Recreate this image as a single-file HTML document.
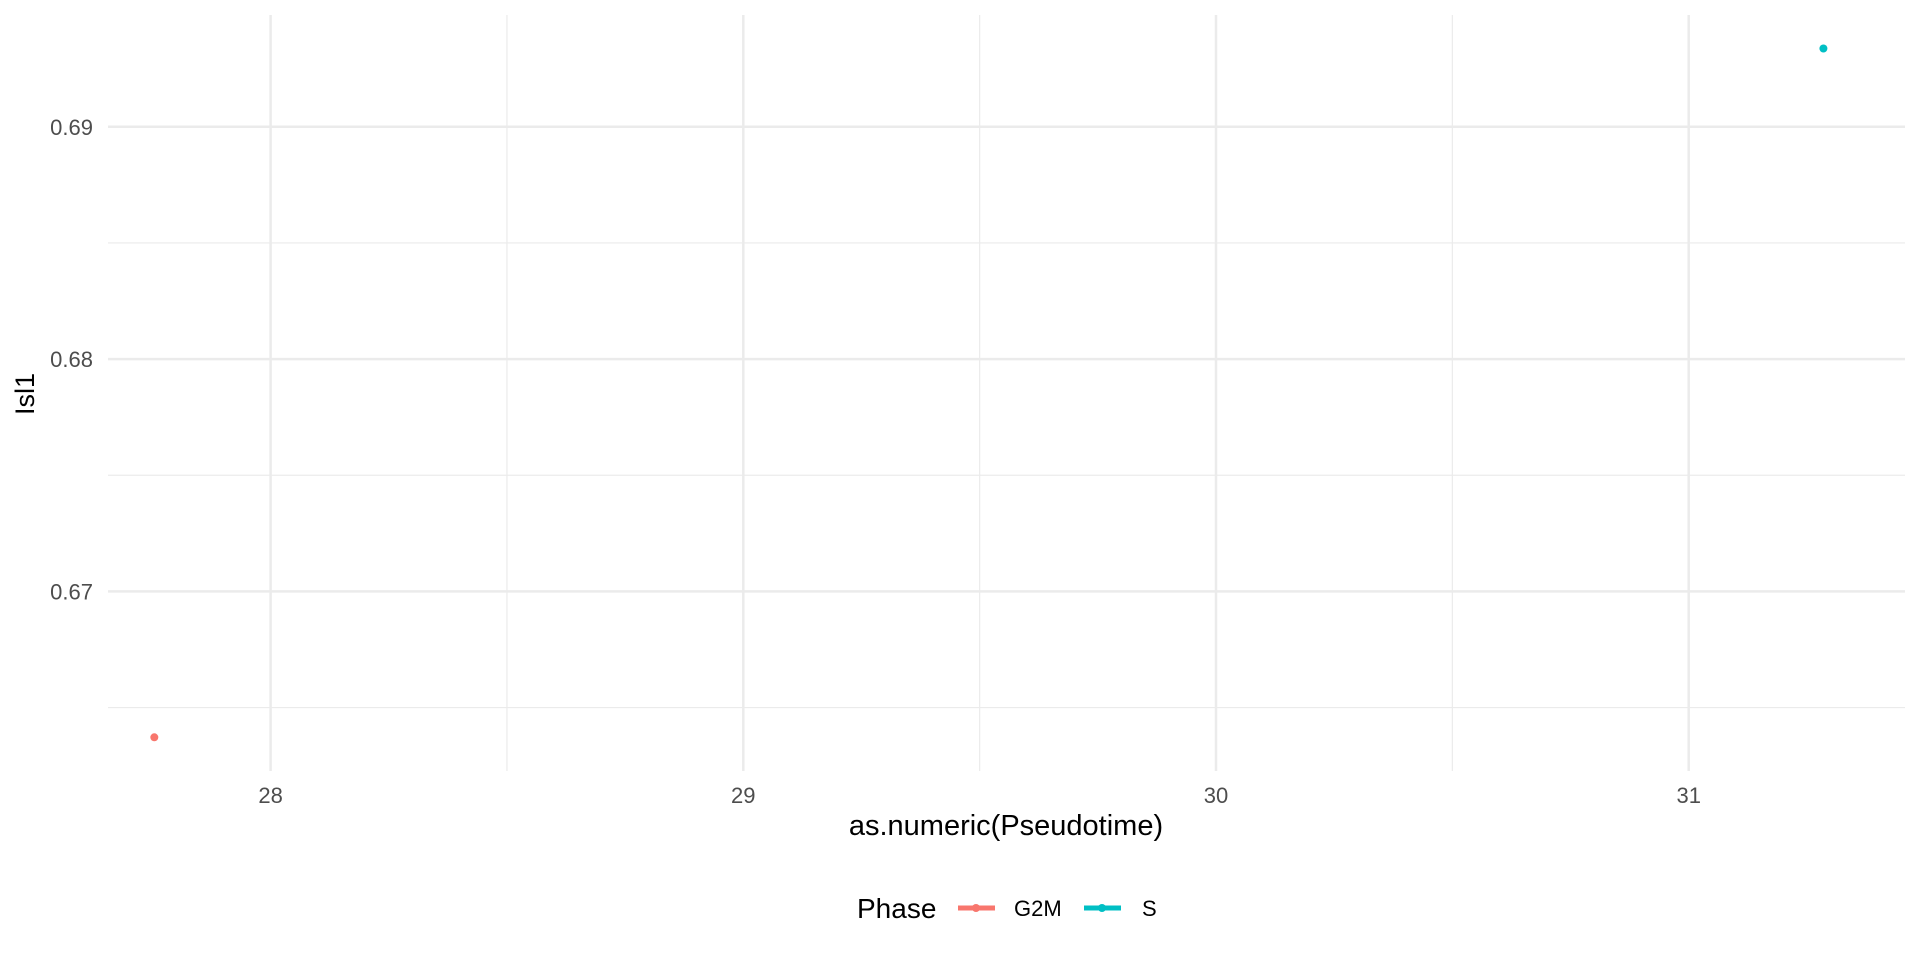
<!DOCTYPE html>
<html><head><meta charset="utf-8"><style>
body{margin:0;background:#fff;}
svg{display:block;font-family:"Liberation Sans",Arial,sans-serif;}
</style></head><body>
<svg id="chart" width="1920" height="960">
<g id="grid"></g>
<g id="axes"></g>
<g id="points"></g>
<text x="1006" y="835" font-size="29" text-anchor="middle" fill="#000">as.numeric(Pseudotime)</text>
<text transform="translate(34,394) rotate(-90)" font-size="27" text-anchor="middle" fill="#000">Isl1</text>
<g>
<text x="857" y="918" font-size="28" fill="#000">Phase</text>
<g>
<line x1="958" y1="908" x2="995" y2="908" stroke="#F8766D" stroke-width="5"/>
<circle cx="976" cy="908" r="4" fill="#F8766D"/>
<text x="1014" y="916" font-size="22" fill="#000">G2M</text></g>
<g>
<line x1="1084" y1="908" x2="1121" y2="908" stroke="#00BFC4" stroke-width="5"/>
<circle cx="1102" cy="908" r="4" fill="#00BFC4"/>
<text x="1142" y="916" font-size="22" fill="#000">S</text></g>
</g>
</svg>
<script>
const categories=["G2M","S"];
const xValues=[27.754,31.285];
const yValues=[0.66372,0.69337];
const colors=["#F8766D","#00BFC4"];
const xTicks=[28,29,30,31];
const xTickLabels=["28","29","30","31"];
const yTicks=[0.67,0.68,0.69];
const yTickLabels=["0.67","0.68","0.69"];
const xMinor=[27.5,28.5,29.5,30.5,31.5];
const yMinor=[0.665,0.675,0.685];
const L=108,R=1905,T=15,B=771;
function xs(v){return 270.6+(v-28)*472.7;}
function ys(v){return 591.4-(v-0.67)*23230;}
const NS="http://www.w3.org/2000/svg";
const grid=document.getElementById('grid'),axes=document.getElementById('axes'),pts=document.getElementById('points');
function ln(x1,y1,x2,y2,w,name){const l=document.createElementNS(NS,'line');l.setAttribute('x1',x1);l.setAttribute('y1',y1);l.setAttribute('x2',x2);l.setAttribute('y2',y2);l.setAttribute('stroke','#ebebeb');l.setAttribute('stroke-width',w);


grid.appendChild(l);}
xMinor.forEach(v=>{const x=xs(v);if(x>L&&x<R)ln(x,T,x,B,1.2,'x-minor-gridline');});
yMinor.forEach(v=>{const y=ys(v);if(y>T&&y<B)ln(L,y,R,y,1.2,'y-minor-gridline');});
xTicks.forEach(v=>ln(xs(v),T,xs(v),B,2.5,'x-major-gridline'));
yTicks.forEach(v=>ln(L,ys(v),R,ys(v),2.5,'y-major-gridline'));
xTicks.forEach((v,i)=>{const t=document.createElementNS(NS,'text');t.setAttribute('x',xs(v));t.setAttribute('y',803);t.setAttribute('font-size','22');t.setAttribute('text-anchor','middle');t.setAttribute('fill','#4d4d4d');t.textContent=xTickLabels[i];


axes.appendChild(t);});
yTicks.forEach((v,i)=>{const t=document.createElementNS(NS,'text');t.setAttribute('x',93);t.setAttribute('y',ys(v)+8);t.setAttribute('font-size','22');t.setAttribute('text-anchor','end');t.setAttribute('fill','#4d4d4d');t.textContent=yTickLabels[i];


axes.appendChild(t);});
categories.forEach((c,i)=>{const p=document.createElementNS(NS,'circle');p.setAttribute('cx',xs(xValues[i]));p.setAttribute('cy',ys(yValues[i]));p.setAttribute('r',4);p.setAttribute('fill',colors[i]);


pts.appendChild(p);});
</script>
</body></html>
